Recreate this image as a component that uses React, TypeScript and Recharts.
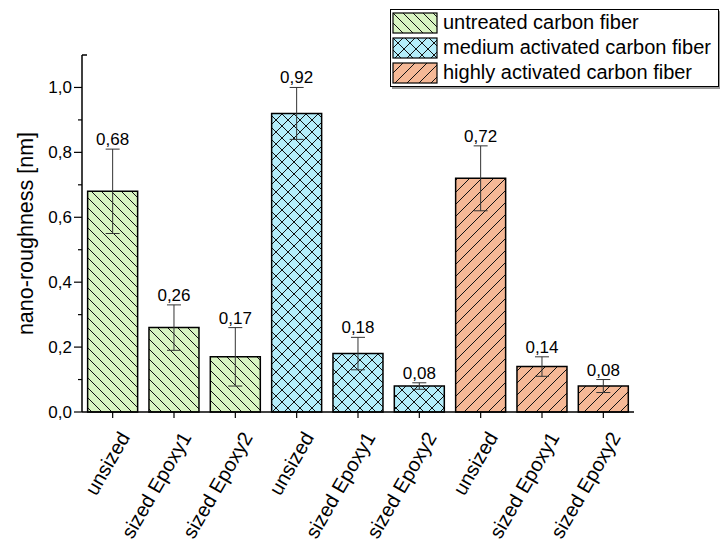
import { BarChart, Bar, XAxis, YAxis, Cell, ErrorBar, LabelList, Label } from 'recharts'

const categories = [
  'unsized', 'sized Epoxy1', 'sized Epoxy2',
  'unsized', 'sized Epoxy1', 'sized Epoxy2',
  'unsized', 'sized Epoxy1', 'sized Epoxy2',
]
const values = [0.68, 0.26, 0.17, 0.92, 0.18, 0.08, 0.72, 0.14, 0.08]
const errors = [0.13, 0.07, 0.09, 0.08, 0.05, 0.01, 0.10, 0.03, 0.02]
const groups = [0, 0, 0, 1, 1, 1, 2, 2, 2]
const seriesNames = ['untreated carbon fiber', 'medium activated carbon fiber', 'highly activated carbon fiber']
const yTicks = [0, 0.1, 0.2, 0.3, 0.4, 0.5, 0.6, 0.7, 0.8, 0.9, 1.0, 1.1]
const majorTicks = [0, 0.2, 0.4, 0.6, 0.8, 1.0]

const patternIds = ['hatchGreen', 'hatchCyan', 'hatchOrange']
const FONT = '"Liberation Sans", Arial, sans-serif'
const TICK_SIZE = 8
const TICK_MARGIN = 2

const data = categories.map((name, i) => ({ id: i, name, value: values[i], err: errors[i], group: groups[i] }))

const fmt = (v: number, digits: number) => v.toFixed(digits).replace('.', ',')

function Patterns() {
  return (
    <defs>
      <pattern id="hatchGreen" patternUnits="userSpaceOnUse" width="10" height="10">
        <rect width="10" height="10" fill="#d9f5c2" />
        <path d="M0,0 L10,10 M-5,5 L5,15 M5,-5 L15,5" stroke="#111" strokeWidth="1" />
      </pattern>
      <pattern id="hatchCyan" patternUnits="userSpaceOnUse" width="12" height="12">
        <rect width="12" height="12" fill="#b4edfa" />
        <path d="M0,0 L12,12 M-6,6 L6,18 M6,-6 L18,6 M0,12 L12,0 M-6,6 L6,-6 M6,18 L18,6" stroke="#111" strokeWidth="1" />
      </pattern>
      <pattern id="hatchOrange" patternUnits="userSpaceOnUse" width="12" height="12">
        <rect width="12" height="12" fill="#f5b896" />
        <path d="M0,12 L12,0 M-6,6 L6,-6 M6,18 L18,6" stroke="#111" strokeWidth="1" />
      </pattern>
    </defs>
  )
}

function YTick(props: any) {
  const { x, y, payload } = props
  const v = payload.value
  const axisX = x + TICK_SIZE + TICK_MARGIN
  const major = majorTicks.some(t => Math.abs(t - v) < 1e-6)
  if (Math.abs(v - 1.1) < 1e-6) {
    return <line x1={axisX} x2={axisX + 5} y1={y} y2={y} stroke="#000" strokeWidth={1.5} />
  }
  return (
    <g>
      <line x1={axisX - (major ? TICK_SIZE : 4)} x2={axisX} y1={y} y2={y} stroke="#000" strokeWidth={1.2} />
      {major && (
        <text x={x} y={y} dy={6} textAnchor="end" fontSize={17} fontFamily={FONT} fill="#000">
          {fmt(v, 1)}
        </text>
      )}
    </g>
  )
}

function XTick(props: any) {
  const { x, y, payload } = props
  const tx = x + 18
  const ty = y + 17
  return (
    <text x={tx} y={ty} transform={`rotate(-60 ${tx} ${ty})`} textAnchor="end" fontSize={20} fontFamily={FONT} fill="#000">
      {categories[payload.value]}
    </text>
  )
}

function ValueLabel(props: any) {
  const { x, y, width, height, value, index } = props
  const perUnit = height / value
  const top = y - errors[index] * perUnit
  return (
    <text x={x + width / 2} y={top - 4} textAnchor="middle" fontSize={17} fontFamily={FONT} fill="#000">
      {fmt(value, 2)}
    </text>
  )
}

function YTitle(props: any) {
  const { viewBox } = props
  const cy = viewBox.y + viewBox.height / 2
  const cx = 26
  return (
    <text
      x={cx}
      y={cy}
      transform={`rotate(-90 ${cx} ${cy})`}
      textAnchor="middle"
      dominantBaseline="central"
      fontSize={21.5}
      fontFamily={FONT}
      fill="#000"
    >
      nano-roughness [nm]
    </text>
  )
}

function LegendBox() {
  return (
    <div
      style={{
        position: 'absolute', left: 390, top: 9, width: 327, height: 76,
        border: '1px solid #000', boxShadow: '2px 2px 0 #999', background: '#fff',
        fontFamily: FONT, fontSize: 20,
      }}
    >
      {seriesNames.map((n, i) => (
        <div key={n} style={{ display: 'flex', alignItems: 'center', height: 25 }}>
          <svg width={46} height={22} style={{ marginLeft: 1, marginRight: 5 }}>
            <rect x={1} y={1} width={44} height={20} fill={`url(#${patternIds[i]})`} stroke="#000" strokeWidth={1.2} />
          </svg>
          <span style={{ whiteSpace: 'nowrap' }}>{n}</span>
        </div>
      ))}
    </div>
  )
}

export default function App() {
  return (
    <div style={{ position: 'absolute', left: 0, top: 0, width: 720, height: 542, background: '#fff' }}>
      <BarChart
        width={720}
        height={542}
        data={data}
        margin={{ top: 55, right: 86, left: 0, bottom: 10 }}
        barCategoryGap="9.2%"
      >
        <Patterns />
        <XAxis
          dataKey="id"
          type="category"
          height={120}
          tick={<XTick />}
          tickSize={6}
          tickMargin={2}
          interval={0}
          axisLine={{ stroke: '#000', strokeWidth: 1.5 }}
          tickLine={{ stroke: '#000', strokeWidth: 1.2 }}
        />
        <YAxis
          width={82}
          domain={[0, 1.1]}
          ticks={yTicks}
          interval={0}
          tick={<YTick />}
          tickLine={false}
          tickSize={TICK_SIZE}
          tickMargin={TICK_MARGIN}
          axisLine={{ stroke: '#000', strokeWidth: 1.5 }}
        >
          <Label content={<YTitle />} />
        </YAxis>
        <Bar dataKey="value" stroke="#000" strokeWidth={1.5} isAnimationActive={false}>
          {data.map(d => (
            <Cell key={d.id} fill={`url(#${patternIds[d.group]})`} />
          ))}
          <ErrorBar dataKey="err" width={7} stroke="#333" strokeWidth={1} direction="y" />
          <LabelList dataKey="value" content={<ValueLabel />} />
        </Bar>
      </BarChart>
      <LegendBox />
    </div>
  )
}
